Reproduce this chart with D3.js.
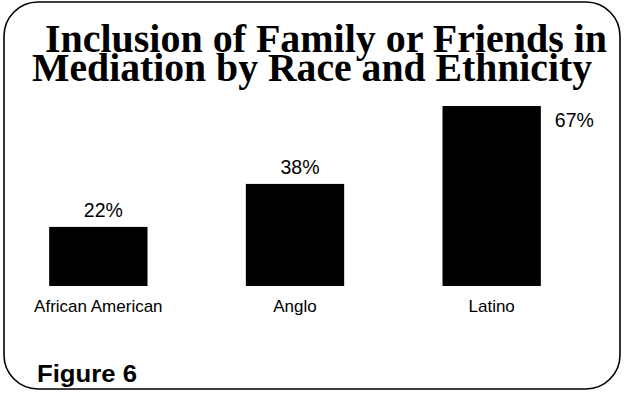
<!DOCTYPE html>
<html>
<head>
<meta charset="utf-8">
<script src="https://cdn.jsdelivr.net/npm/d3@7"></script>
<style>
  html, body { margin: 0; padding: 0; background: #fff; }
  svg { display: block; }
</style>
</head>
<body>
<svg id="chart" width="625" height="393"></svg>
<script>
// Share of mediations that included family or friends, by group
const categories = ["African American", "Anglo", "Latino"];
const values = [22, 38, 67];
const valueLabels = ["22%", "38%", "67%"];
const titleLines = ["Inclusion of Family or Friends in", "Mediation by Race and Ethnicity"];
const figureLabel = "Figure 6";

const svg = d3.select("#chart");
const W = 625, H = 393;

// rounded frame
svg.append("rect")
  .attr("x", 4).attr("y", 2)
  .attr("width", W - 9).attr("height", H - 6)
  .attr("rx", 34).attr("ry", 34)
  .attr("fill", "#fff")
  .attr("stroke", "#000")
  .attr("stroke-width", 1.6);

// two-line title, tightly set
const title = svg.append("g").attr("font-family", "'Liberation Serif', 'Times New Roman', serif")
  .attr("font-weight", "bold").attr("fill", "#000");
title.append("text").attr("x", 45).attr("y", 52).attr("font-size", 39.5)
  .attr("textLength", 562).attr("lengthAdjust", "spacingAndGlyphs").text(titleLines[0]);
title.append("text").attr("x", 32).attr("y", 80.5).attr("font-size", 39.5)
  .attr("textLength", 560).attr("lengthAdjust", "spacingAndGlyphs").text(titleLines[1]);

// scales
const x = d3.scaleBand().domain(categories).range([0, 590]).paddingInner(0.5).paddingOuter(0.25);
const y = d3.scaleLinear().domain([0, 67]).range([286, 106]);

const g = svg.append("g");

g.selectAll("rect.bar")
  .data(categories)
  .join("rect")
  .attr("class", "bar")
  .attr("x", d => x(d))
  .attr("width", x.bandwidth())
  .attr("y", (d, i) => y(values[i]))
  .attr("height", (d, i) => y(0) - y(values[i]))
  .attr("fill", "#000");

// value labels: above the bar, except the tallest which sits to its right
g.selectAll("text.val")
  .data(categories)
  .join("text")
  .attr("class", "val")
  .attr("font-family", "'Liberation Sans', Arial, sans-serif")
  .attr("font-size", 19.5)
  .attr("text-anchor", (d, i) => i === 2 ? "start" : "middle")
  .attr("x", (d, i) => i === 2 ? x(d) + x.bandwidth() + 14 : x(d) + x.bandwidth() / 2 + 5)
  .attr("y", (d, i) => i === 2 ? y(values[i]) + 21 : y(values[i]) - 10)
  .text((d, i) => valueLabels[i]);

// category axis labels
const axis = d3.axisBottom(x).tickSize(0).tickPadding(0);
const ax = g.append("g").attr("transform", "translate(0,312)").call(axis);
ax.select(".domain").remove();
ax.selectAll("text")
  .attr("font-family", "'Liberation Sans', Arial, sans-serif")
  .attr("font-size", 17)
  .attr("fill", "#000")
  .attr("dy", 0)
  .attr("y", 0);

// figure caption
svg.append("text")
  .attr("x", 37).attr("y", 381.5)
  .attr("font-family", "'Liberation Sans', Arial, sans-serif")
  .attr("font-weight", "bold")
  .attr("font-size", 24.5)
  .attr("textLength", 100).attr("lengthAdjust", "spacingAndGlyphs")
  .text(figureLabel);
</script>
</body>
</html>
